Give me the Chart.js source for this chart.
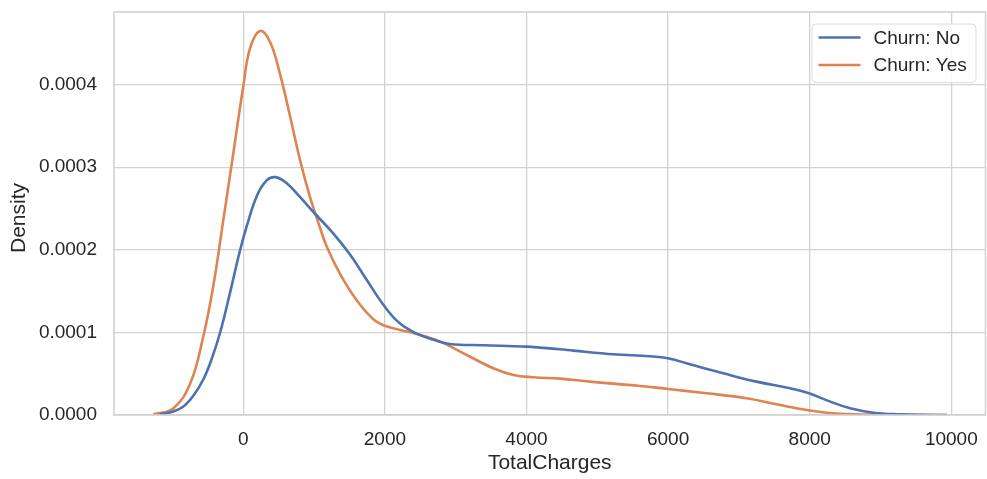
<!DOCTYPE html>
<html>
<head>
<meta charset="utf-8">
<script src="https://cdn.jsdelivr.net/npm/chart.js@4/dist/chart.umd.min.js"></script>
<style>
  html, body { margin: 0; padding: 0; background: #ffffff; }
  #wrap { width: 987px; height: 479px; }
</style>
</head>
<body>
<div id="wrap"><canvas id="kde" width="987" height="479"></canvas></div>
<script>
// Kernel density of TotalCharges, split by churn status
const seriesLabels = ['Churn: No', 'Churn: Yes'];
const seriesColors = ['#4c72b0', '#dd8452'];
const xTitle = 'TotalCharges';
const yTitle = 'Density';

const noX = [-1180, -1000, -850, -700, -565, -450, -330, -190, -50, 50, 190, 330, 450, 610, 800,
  1010, 1270, 1510, 1740, 2000, 2210, 2450, 2690, 2920, 3390, 4000, 4470, 4660, 5230, 5740,
  6000, 6310, 6780, 7250, 7720, 7990, 8290, 8570, 8900, 9280, 9600, 9940];
const noDensity = [0.0000005, 0.000004, 0.00001, 0.000024, 0.000043, 0.000067, 0.000099, 0.000147,
  0.000198, 0.000229, 0.000265, 0.000284, 0.000288, 0.000281, 0.000264, 0.000244, 0.00022,
  0.000194, 0.000164, 0.000131, 0.000111, 0.0000985, 0.000091, 0.000086, 0.0000845,
  0.0000828, 0.0000796, 0.000078, 0.0000735, 0.0000712, 0.0000687, 0.0000614, 0.0000505,
  0.0000404, 0.0000323, 0.0000263, 0.0000162, 0.0000081, 0.0000028, 0.0000008, 0.0000002, 0];

const yesX = [-1270, -990, -750, -565, -424, -282, -141, 0, 95, 236, 377, 518, 660, 801, 942,
  1083, 1178, 1366, 1602, 1837, 2000, 2213, 2449, 2779, 3156, 3531, 3814, 4096, 4473, 4898,
  5604, 6000, 6545, 7110, 7581, 7958, 8334, 8898, 9400, 9940];
const yesDensity = [0.000001, 0.000008, 0.000038, 0.000095, 0.000156, 0.000236, 0.000317,
  0.000398, 0.000444, 0.000465, 0.000452, 0.000413, 0.000362, 0.000309, 0.000264, 0.000227,
  0.000204, 0.000171, 0.000139, 0.000116, 0.000108, 0.000103, 0.0000982, 0.0000889,
  0.0000727, 0.0000566, 0.0000485, 0.0000457, 0.000044, 0.0000404, 0.0000352, 0.0000315,
  0.0000263, 0.0000202, 0.0000121, 0.0000061, 0.000002, 0.0000004, 0.0000001, 0];

const xTickValues = [0, 2000, 4000, 6000, 8000, 10000];
const yTickValues = [0, 0.0001, 0.0002, 0.0003, 0.0004];

const TEXT = '#262626';
const GRID = '#d2d2d2';
const FONT = '"Liberation Sans", Arial, sans-serif';

const toPoints = (xs, ys) => xs.map((x, i) => ({ x: x, y: ys[i] }));

// Keep the plot area exactly where the layout padding puts it
function fixScale(scale, size) {
  if (scale.isHorizontal()) scale.height = size; else scale.width = size;
  scale.paddingTop = 0;
  scale.paddingBottom = 0;
  scale.paddingLeft = 0;
  scale.paddingRight = 0;
}

// Axes frame (all four spines) drawn over the curves
const framePlugin = {
  id: 'frame',
  afterDatasetsDraw(chart) {
    const { ctx, chartArea: a } = chart;
    ctx.save();
    ctx.strokeStyle = GRID;
    ctx.lineWidth = 1.6;
    ctx.strokeRect(a.left, a.top, a.right - a.left, a.bottom - a.top);
    ctx.restore();
  }
};

// Rotated y-axis label, set slightly below the plot's mid-height
const yTitlePlugin = {
  id: 'yTitle',
  afterDraw(chart) {
    const { ctx, chartArea: a } = chart;
    ctx.save();
    ctx.translate(19, (a.top + a.bottom) / 2 + 4.5);
    ctx.rotate(-Math.PI / 2);
    ctx.font = '21px ' + FONT;
    ctx.fillStyle = TEXT;
    ctx.textAlign = 'center';
    ctx.textBaseline = 'middle';
    ctx.fillText(yTitle, 0, 0);
    ctx.restore();
  }
};

// Legend box placed in the upper-right corner of the plot area
const insideLegend = {
  id: 'insideLegend',
  afterDraw(chart) {
    const { ctx, chartArea: a } = chart;
    const boxRight = a.right - 9.5, boxTop = a.top + 12;
    const boxW = 164, boxH = 58.5;
    const x0 = boxRight - boxW;
    ctx.save();
    ctx.beginPath();
    ctx.roundRect(x0, boxTop, boxW, boxH, 4);
    ctx.fillStyle = 'rgba(255,255,255,0.85)';
    ctx.fill();
    ctx.strokeStyle = '#dcdcdc';
    ctx.lineWidth = 1;
    ctx.stroke();
    ctx.font = '19px ' + FONT;
    ctx.textBaseline = 'middle';
    ctx.textAlign = 'left';
    chart.data.datasets.forEach((ds, i) => {
      const y = boxTop + 13.5 + i * 27.5;
      ctx.beginPath();
      ctx.moveTo(x0 + 6.5, y);
      ctx.lineTo(x0 + 48.5, y);
      ctx.strokeStyle = ds.borderColor;
      ctx.lineWidth = 2.6;
      ctx.stroke();
      ctx.fillStyle = TEXT;
      ctx.fillText(ds.label, x0 + 61.5, y + 1);
    });
    ctx.restore();
  }
};

new Chart(document.getElementById('kde'), {
  type: 'line',
  data: {
    datasets: [
      { label: seriesLabels[0], data: toPoints(noX, noDensity), borderColor: seriesColors[0] },
      { label: seriesLabels[1], data: toPoints(yesX, yesDensity), borderColor: seriesColors[1] }
    ]
  },
  options: {
    responsive: false,
    animation: false,
    devicePixelRatio: 1,
    layout: { padding: { left: 0, right: 1.5, top: 12, bottom: 0 } },
    elements: {
      point: { radius: 0, hoverRadius: 0 },
      line: { borderWidth: 2.6, tension: 0.4, fill: false }
    },
    plugins: {
      legend: { display: false },
      tooltip: { enabled: false }
    },
    scales: {
      x: {
        type: 'linear',
        min: -1826,
        max: 10483,
        afterBuildTicks(scale) { scale.ticks = xTickValues.map(v => ({ value: v })); },
        afterFit(scale) { fixScale(scale, 64); },
        ticks: {
          color: TEXT,
          font: { family: FONT, size: 19 },
          padding: 13,
          maxRotation: 0,
          callback: v => String(v)
        },
        grid: { color: GRID, lineWidth: 1.3, drawTicks: false },
        border: { display: false },
        title: {
          display: true,
          text: xTitle,
          color: TEXT,
          font: { family: FONT, size: 21 },
          padding: { top: 0, bottom: 3 }
        }
      },
      y: {
        type: 'linear',
        min: 0,
        max: 0.000488,
        afterBuildTicks(scale) { scale.ticks = yTickValues.map(v => ({ value: v })); },
        afterFit(scale) { fixScale(scale, 114); },
        ticks: {
          color: TEXT,
          font: { family: FONT, size: 19 },
          padding: 17,
          callback: v => Number(v).toFixed(4)
        },
        grid: { color: GRID, lineWidth: 1.3, drawTicks: false },
        border: { display: false },
        title: { display: false }
      }
    }
  },
  plugins: [framePlugin, yTitlePlugin, insideLegend]
});
</script>
</body>
</html>
